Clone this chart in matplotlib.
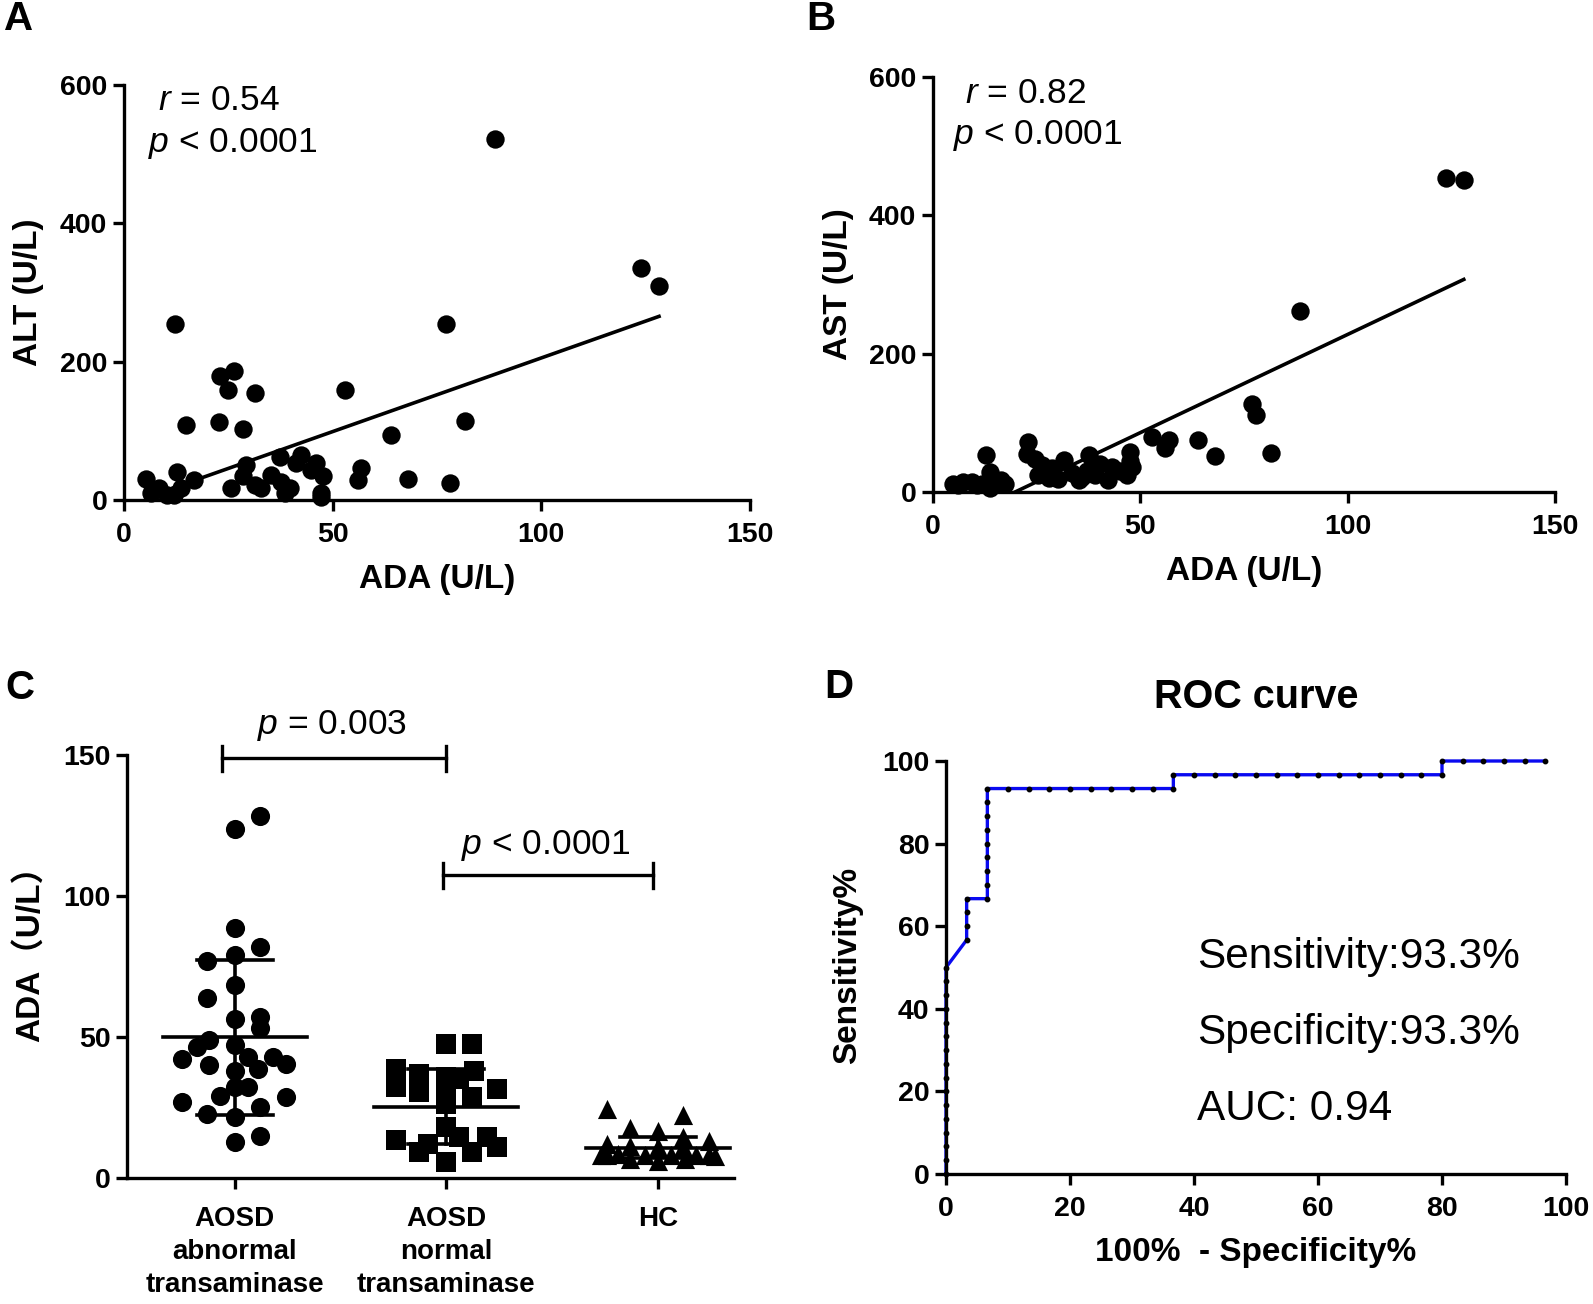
import matplotlib.pyplot as plt
import numpy as np

plt.rcParams["font.family"] = ["Liberation Sans", "Noto Sans CJK SC", "DejaVu Sans"]
plt.rcParams["mathtext.fontset"] = "custom"
plt.rcParams["mathtext.rm"] = "Liberation Sans"
plt.rcParams["mathtext.it"] = "Liberation Sans:italic"

# ---- A: ADA vs ALT ----
alt_ada = [88.8, 123.9, 128.2, 12.3, 77.1, 26.4, 22.9, 25.0, 31.3, 52.9,
           14.8, 22.8, 28.4, 81.7, 63.9, 5.2, 8.4, 6.4, 10.4, 12.8,
           13.6, 16.8, 12.0, 25.6, 29.3, 28.4, 31.3, 32.9, 35.3, 37.3,
           38.5, 39.7, 41.3, 42.5, 44.9, 46.1, 47.7, 47.3, 47.3, 56.9,
           56.1, 37.7, 68.1, 78.1]
alt_val = [522, 336, 309, 254, 254, 187, 180, 159, 155, 159,
           108, 113, 102, 114, 94, 30, 17, 9.6, 7, 41,
           17, 29, 7, 17, 50, 34, 22, 17, 36, 62,
           10, 17, 53, 65, 43, 53, 34, 10, 5, 46,
           29, 26, 31, 24]
alt_fit = (2.13, -7.6)  # slope, intercept

# ---- B: ADA vs AST ----
ast_ada = [123.6, 128.0, 88.5, 76.9, 77.9, 81.4, 63.9, 68.0, 52.8, 55.9,
           57.0, 12.9, 23.0, 22.6, 24.6, 26.2, 25.4, 28.6, 31.5, 30.2,
           33.5, 35.1, 37.5, 37.1, 40.3, 42.3, 43.2, 47.6, 48.0, 46.8,
           4.8, 7.3, 9.3, 13.7, 11.7, 14.5, 16.5, 13.7, 17.3, 6.0,
           10.5, 28.0, 36.0, 47.5, 45.0, 39.0]
ast_val = [454, 451, 261, 127, 111, 56, 75, 52, 80, 64,
           75, 53, 72, 55, 48, 39, 24, 34, 46, 19,
           27, 17, 53, 31, 41, 17, 36, 58, 36, 24,
           12, 14, 14, 29, 12, 14, 17, 6, 12, 10,
           10, 20, 22, 45, 30, 25]
ast_fit = (2.84, -56.2)

# ---- C: ADA by group ----
groups = ["AOSD\nabnormal\ntransaminase", "AOSD\nnormal\ntransaminase", "HC"]
g1_ada = [128.3, 123.6, 88.8, 81.9, 79.0, 77.0, 68.3, 63.9, 56.5, 57.1,
          53.3, 46.4, 48.8, 47.0, 42.3, 42.9, 42.9, 40.5, 39.9, 38.1,
          38.7, 32.2, 32.2, 29.2, 26.9, 28.6, 22.7, 21.5, 25.1, 15.0, 12.7]
g2_ada = [47.6, 47.6, 38.7, 36.9, 35.8, 38.1, 35.2, 31.6, 32.2, 30.4,
          32.8, 28.6, 26.3, 18.0, 13.3, 9.1, 5.6, 14.4, 14.4, 9.1,
          10.9, 12.1]
g3_ada = [24.5, 22.3, 17.9, 16.8, 14.4, 13.2, 12.0, 11.4, 11.0, 11.0,
          8.5, 8.1, 8.1, 8.1, 8.1, 7.7, 6.1, 6.9, 6.9, 8.1, 8.1]
group_mean = [50.0, 25.1, 10.6]
group_low = [22.5, 12.1, 7.2]
group_high = [77.2, 38.7, 14.4]
# horizontal spread of the dots inside each column
g1_off = [0.12, 0, 0, 0.12, 0, -0.13, 0, -0.13, 0, 0.12,
          0.12, -0.18, -0.12, 0, -0.25, 0.06, 0.18, 0.24, -0.12, 0,
          0.11, 0, 0.06, -0.07, -0.25, 0.24, -0.13, 0, 0.12, 0.12, 0]
g2_off = [0, 0.12, -0.24, -0.13, 0, 0.13, 0.06, 0.24, -0.24, -0.13,
          0, 0.12, 0, 0, -0.24, -0.13, 0, 0.06, 0.19, 0.12,
          0.24, -0.085]
g3_off = [-0.24, 0.12, -0.13, 0, 0.12, 0.24, -0.24, -0.13, 0, 0.12,
          -0.19, -0.27, -0.06, 0.06, 0.18, 0.27, 0, -0.13, 0.13, 0.24, -0.24]

# ---- D: ROC ----
roc_fpr = [0, 0, 0, 0, 0, 0, 0, 0, 0, 0, 0, 0, 0, 0, 0, 0,
           3.33, 3.33, 3.33, 3.33,
           6.67, 6.67, 6.67, 6.67, 6.67, 6.67, 6.67, 6.67, 6.67,
           10, 13.33, 16.67, 20, 23.33, 26.67, 30, 33.33, 36.67,
           36.67, 40, 43.33, 46.67, 50, 53.33, 56.67, 60, 63.33, 66.67,
           70, 73.33, 76.67, 80,
           80, 83.33, 86.67, 90, 93.33, 96.67]
roc_sens = [0, 3.33, 6.67, 10, 13.33, 16.67, 20, 23.33, 26.67, 30,
            33.33, 36.67, 40, 43.33, 46.67, 50,
            56.67, 60, 63.33, 66.67,
            66.67, 70, 73.33, 76.67, 80, 83.33, 86.67, 90, 93.33,
            93.33, 93.33, 93.33, 93.33, 93.33, 93.33, 93.33, 93.33, 93.33,
            96.67, 96.67, 96.67, 96.67, 96.67, 96.67, 96.67, 96.67, 96.67,
            96.67, 96.67, 96.67, 96.67, 96.67,
            100, 100, 100, 100, 100, 100]

W, H = 1593, 1304
TICK_FS = 20.5
LABEL_FS = 24
STAT_FS = 25.5
LW = 2.4


def fig_rect(left, top, right, bottom):
    return [left / W, 1 - bottom / H, (right - left) / W, (bottom - top) / H]


def style_axes(ax):
    for side in ["top", "right"]:
        ax.spines[side].set_visible(False)
    for side in ["left", "bottom"]:
        ax.spines[side].set_linewidth(LW)
    ax.tick_params(
        direction="out",
        length=8,
        width=LW,
        labelsize=TICK_FS,
        pad=4
    )
    ax.tick_params(axis="x", pad=8)
    for lab in ax.get_xticklabels() + ax.get_yticklabels():
        lab.set_fontweight("bold")


def plot_correlation(ax, x, y, fit, ylabel, r_text):
    ax.scatter(x, y, s=175, color="black", zorder=3, clip_on=False,
               linewidths=0)
    xs = np.array([min(x), max(x)])
    ax.plot(xs, fit[0] * xs + fit[1], color="black", lw=2.6, zorder=2)
    ax.set_xlim(0, 150)
    ax.set_ylim(0, 600)
    ax.set_xticks([0, 50, 100, 150])
    ax.set_yticks([0, 200, 400, 600])
    style_axes(ax)
    ax.set_xlabel("ADA (U/L)", fontsize=LABEL_FS, fontweight="bold",
                  va="center")
    ax.xaxis.set_label_coords(0.5, -0.192)
    ax.set_ylabel(ylabel, fontsize=LABEL_FS, fontweight="bold",
                  va="center")
    ax.yaxis.set_label_coords(-0.152, 0.5)
    ax.text(r_text[0], r_text[3], r"$\mathit{r}$ = " + r_text[2],
            transform=ax.transAxes, fontsize=STAT_FS, va="center", ha="left")
    ax.text(r_text[1], r_text[3] - 0.102, r"$\mathit{p}$ < 0.0001",
            transform=ax.transAxes, fontsize=STAT_FS, va="center", ha="left")


fig = plt.figure(figsize=(W / 100, H / 100), dpi=100)

# A
ax_a = fig.add_axes(fig_rect(124, 85, 750, 500))
plot_correlation(ax_a, alt_ada, alt_val, alt_fit, "ALT (U/L)",
                 (0.054, 0.038, "0.54", 0.962))

# B
ax_b = fig.add_axes(fig_rect(933, 77, 1555, 492))
plot_correlation(ax_b, ast_ada, ast_val, ast_fit, "AST (U/L)",
                 (0.051, 0.032, "0.82", 0.960))

# C
ax_c = fig.add_axes(fig_rect(127, 755, 734, 1178))
markers = ["o", "s", "^"]
sizes = [190, 210, 190]
for i, (vals, offs) in enumerate(zip([g1_ada, g2_ada, g3_ada],
                                     [g1_off, g2_off, g3_off])):
    xpos = i + 1 + np.array(offs)
    ax_c.scatter(xpos, vals, marker=markers[i], s=sizes[i], color="black",
                 linewidths=0, zorder=3, clip_on=False)
    cx = i + 1
    ax_c.plot([cx - 0.34, cx + 0.34], [group_mean[i]] * 2, color="black",
              lw=2.6, zorder=4)
    ax_c.plot([cx, cx], [group_low[i], group_high[i]], color="black",
              lw=2.6, zorder=4)
    for v in [group_low[i], group_high[i]]:
        ax_c.plot([cx - 0.18, cx + 0.18], [v, v], color="black", lw=2.6,
                  zorder=4)

# significance brackets
brackets = [(0.94, 2.0, 148.8, "$\\mathit{p}$ = 0.003", 1.46, 160.5),
            (1.985, 2.975, 107.3, "$\\mathit{p}$ < 0.0001", 2.47, 118.0)]
for x0, x1, yb, txt, tx, ty in brackets:
    ax_c.plot([x0, x1], [yb, yb], color="black", lw=2.4, clip_on=False)
    for xe in [x0, x1]:
        ax_c.plot([xe, xe], [yb - 4.4, yb + 4.4], color="black", lw=2.4,
                  clip_on=False)
    ax_c.text(tx, ty, txt, fontsize=STAT_FS, ha="center", va="center")

ax_c.set_xlim(0.49, 3.36)
ax_c.set_ylim(0, 150)
ax_c.set_yticks([0, 50, 100, 150])
ax_c.set_xticks([1, 2, 3])
ax_c.set_xticklabels(groups, linespacing=1.35)
style_axes(ax_c)
for lab in ax_c.get_xticklabels():
    lab.set_fontsize(20)
ax_c.tick_params(axis="x", pad=12)
ax_c.set_ylabel("ADA（U/L）", fontsize=LABEL_FS, fontweight="bold",
                va="center")
ax_c.yaxis.set_label_coords(-0.16, 0.55)

# D
ax_d = fig.add_axes(fig_rect(946, 761, 1566, 1174))
ax_d.plot(roc_fpr, roc_sens, color="#0a0af0", lw=2.4, zorder=2,
          clip_on=False)
ax_d.plot(roc_fpr, roc_sens, ls="none", marker="o", ms=3.2,
          color="black", zorder=3, clip_on=False)
ax_d.set_xlim(0, 100)
ax_d.set_ylim(0, 100)
ax_d.set_xticks(np.arange(0, 101, 20))
ax_d.set_yticks(np.arange(0, 101, 20))
style_axes(ax_d)
ax_d.set_xlabel("100%  - Specificity%", fontsize=LABEL_FS,
                fontweight="bold", va="center")
ax_d.xaxis.set_label_coords(0.5, -0.191)
ax_d.set_ylabel("Sensitivity%", fontsize=LABEL_FS, fontweight="bold",
                va="center")
ax_d.yaxis.set_label_coords(-0.158, 0.506)
ax_d.text(0.5, 1.155, "ROC curve", transform=ax_d.transAxes,
          fontsize=28.5, fontweight="bold", ha="center", va="center")
for txt, ty in [("Sensitivity:93.3%", 52.5), ("Specificity:93.3%", 34.1),
                ("AUC: 0.94", 15.7)]:
    ax_d.text(40.5, ty, txt, fontsize=30.5, ha="left", va="center")

# panel letters
for letter, px, py in [("A", 19, 19), ("B", 821, 19), ("C", 20, 688),
                       ("D", 839, 687)]:
    fig.text(px / W, 1 - py / H, letter, fontsize=29, fontweight="bold",
             ha="center", va="center")

fig.savefig("out.png", dpi=100)
